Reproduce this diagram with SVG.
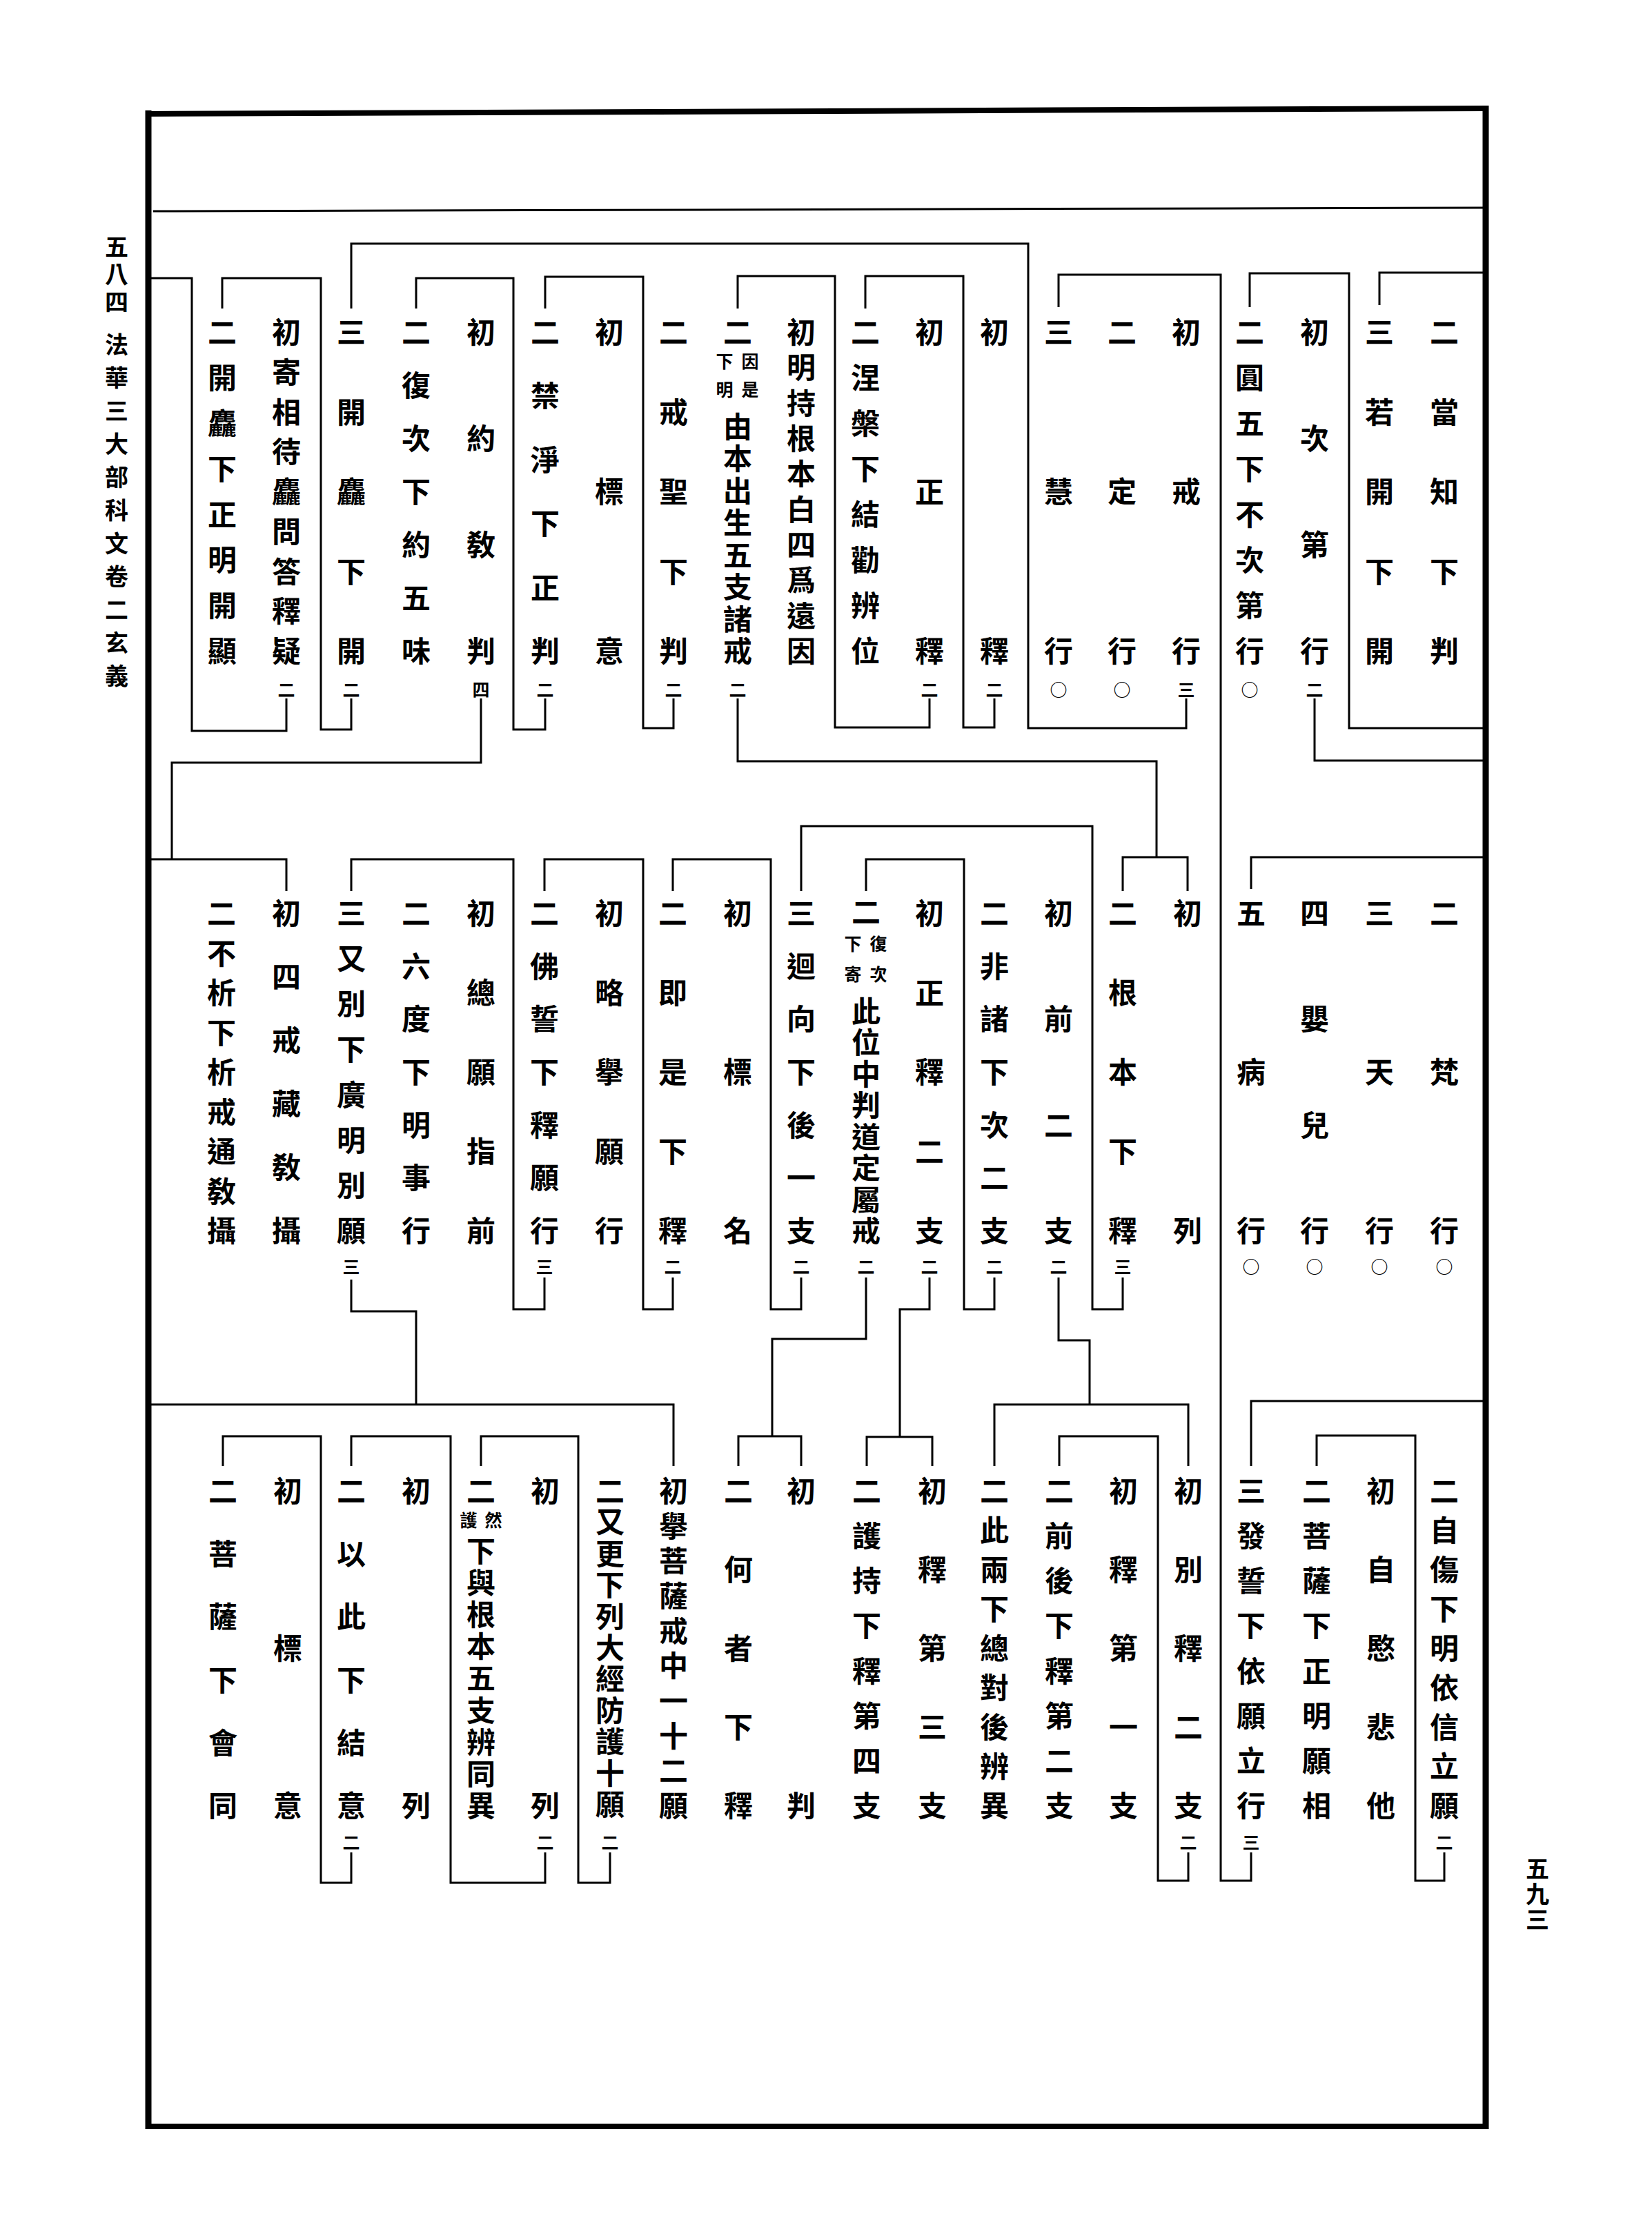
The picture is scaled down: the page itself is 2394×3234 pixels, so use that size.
<svg xmlns="http://www.w3.org/2000/svg" width="2394" height="3234" viewBox="0 0 2394 3234">
<style>
.t{font-family:"Noto Sans CJK TC","Noto Sans CJK JP",sans-serif;font-size:42px;font-weight:700;text-anchor:middle;dominant-baseline:central;fill:#000}
.s{font-size:25px}
.m{font-size:34px}
.c{fill:none;stroke:#000;stroke-width:3}
.f{fill:none;stroke:#000}
</style>
<rect width="2394" height="3234" fill="#fff"/>
<g id="frame">
<path class="f" stroke-width="9" d="M215 160 V3085"/>
<path class="f" stroke-width="9" d="M2153 153 V3085"/>
<path class="f" stroke-width="8" d="M211 165 L2157 157"/>
<path class="f" stroke-width="8" d="M211 3081 H2157"/>
<path class="f" stroke-width="3" d="M222 306 L2149 301"/>
</g>
<g id="margin">
<text class="t m" x="169 169 169" y="355 395 435">五八四</text>
<text class="t m" x="169 169 169 169 169 169 169 169 169 169 169" y="497 545 593 641 689 737 785 833 881 929 977">法華三大部科文卷二玄義</text>
<text class="t m" x="2228 2228 2228" y="2705 2742 2779">五九三</text>
</g>
<g id="connectors">
<path class="c" d="M2153 395 H1999 V442"/>
<path class="c" d="M2153 1055 H1955 V396 H1811 V445"/>
<path class="c" d="M1813 2684 V2725 H1769 V398 H1534 V445"/>
<path class="c" d="M1719 1012 V1055 H1490 V353 H509 V447"/>
<path class="c" d="M1441 1012 V1054 H1396 V400 H1254 V447"/>
<path class="c" d="M1347 1012 V1054 H1210 V400 H1069 V447"/>
<path class="c" d="M976 1012 V1055 H932 V401 H790 V447"/>
<path class="c" d="M790 1012 V1057 H744 V403 H603 V447"/>
<path class="c" d="M509 1012 V1057 H465 V403 H322 V447"/>
<path class="c" d="M415 1012 V1059 H278 V403 H219"/>
<path class="c" d="M1905 1012 V1102 H2153"/>
<path class="c" d="M2153 1242 H1813 V1288"/>
<path class="c" d="M1069 1012 V1103 H1676 V1242"/>
<path class="c" d="M1627 1291 V1242 H1721 V1291"/>
<path class="c" d="M697 1012 V1105 H249 V1245"/>
<path class="c" d="M219 1245 H415 V1291"/>
<path class="c" d="M1627 1851 V1897 H1583 V1197 H1161 V1291"/>
<path class="c" d="M1441 1851 V1897 H1397 V1245 H1255 V1291"/>
<path class="c" d="M1161 1851 V1897 H1117 V1245 H975 V1291"/>
<path class="c" d="M975 1851 V1897 H932 V1245 H789 V1291"/>
<path class="c" d="M789 1851 V1897 H744 V1245 H509 V1291"/>
<path class="c" d="M1534 1851 V1942 H1579 V2035"/>
<path class="c" d="M1441 2124 V2035 H1722 V2124"/>
<path class="c" d="M1347 1851 V1897 H1304 V2082"/>
<path class="c" d="M1256 2124 V2082 H1351 V2124"/>
<path class="c" d="M1255 1851 V1940 H1119 V2081"/>
<path class="c" d="M1070 2124 V2081 H1161 V2124"/>
<path class="c" d="M509 1854 V1900 H603 V2035"/>
<path class="c" d="M219 2035 H976 V2124"/>
<path class="c" d="M2153 2030 H1813 V2124"/>
<path class="c" d="M2093 2684 V2725 H2051 V2080 H1908 V2124"/>
<path class="c" d="M1722 2684 V2725 H1678 V2081 H1535 V2124"/>
<path class="c" d="M884 2684 V2728 H838 V2081 H697 V2124"/>
<path class="c" d="M790 2684 V2728 H653 V2081 H509 V2124"/>
<path class="c" d="M509 2684 V2728 H465 V2081 H323 V2124"/>
</g>
<g id="n1"><text class="t" x="2093 2093 2093 2093 2093" y="478 594 709 825 940">二當知下判</text></g>
<g id="n2"><text class="t" x="1999 1999 1999 1999 1999" y="478 594 709 825 940">三若開下開</text></g>
<g id="n3"><text class="t" x="1905 1905 1905 1905" y="478 632 786 940">初次第行</text><text class="t s" x="1905" y="998">二</text></g>
<g id="n4"><text class="t" x="1811 1811 1811 1811 1811 1811 1811 1811" y="478 544 610 676 742 808 874 940">二圓五下不次第行</text><text class="t s" x="1811" y="998">○</text></g>
<g id="n5"><text class="t" x="1719 1719 1719" y="478 709 940">初戒行</text><text class="t s" x="1719" y="998">三</text></g>
<g id="n6"><text class="t" x="1626 1626 1626" y="478 709 940">二定行</text><text class="t s" x="1626" y="998">○</text></g>
<g id="n7"><text class="t" x="1534 1534 1534" y="478 709 940">三慧行</text><text class="t s" x="1534" y="998">○</text></g>
<g id="n8"><text class="t" x="1441 1441" y="478 940">初釋</text><text class="t s" x="1441" y="998">二</text></g>
<g id="n9"><text class="t" x="1347 1347 1347" y="478 709 940">初正釋</text><text class="t s" x="1347" y="998">二</text></g>
<g id="n10"><text class="t" x="1254 1254 1254 1254 1254 1254 1254 1254" y="478 544 610 676 742 808 874 940">二涅槃下結勸辨位</text></g>
<g id="n11"><text class="t" x="1161 1161 1161 1161 1161 1161 1161 1161 1161 1161" y="478 529 581 632 683 735 786 837 889 940">初明持根本白四爲遠因</text></g>
<g id="n12"><text class="t" x="1069" y="478">二</text><text class="t s" x="1087 1087 1050 1050" y="522 563 522 563">因是下明</text><text class="t" x="1069 1069 1069 1069 1069 1069 1069 1069" y="615 661 708 754 801 847 894 940">由本出生五支諸戒</text><text class="t s" x="1069" y="998">二</text></g>
<g id="n13"><text class="t" x="976 976 976 976 976" y="478 594 709 825 940">二戒聖下判</text><text class="t s" x="976" y="998">二</text></g>
<g id="n14"><text class="t" x="883 883 883" y="478 709 940">初標意</text></g>
<g id="n15"><text class="t" x="790 790 790 790 790 790" y="478 570 663 755 848 940">二禁淨下正判</text><text class="t s" x="790" y="998">二</text></g>
<g id="n16"><text class="t" x="697 697 697 697" y="478 632 786 940">初約敎判</text><text class="t s" x="697" y="998">四</text></g>
<g id="n17"><text class="t" x="603 603 603 603 603 603 603" y="478 555 632 709 786 863 940">二復次下約五味</text></g>
<g id="n18"><text class="t" x="509 509 509 509 509" y="478 594 709 825 940">三開麤下開</text><text class="t s" x="509" y="998">二</text></g>
<g id="n19"><text class="t" x="415 415 415 415 415 415 415 415 415" y="478 536 594 651 709 767 825 882 940">初寄相待麤問答釋疑</text><text class="t s" x="415" y="998">二</text></g>
<g id="n20"><text class="t" x="322 322 322 322 322 322 322 322" y="478 544 610 676 742 808 874 940">二開麤下正明開顯</text></g>
<g id="d1"><text class="t" x="2093 2093 2093" y="1320 1550 1780">二梵行</text><text class="t s" x="2093" y="1834">○</text></g>
<g id="d2"><text class="t" x="1999 1999 1999" y="1320 1550 1780">三天行</text><text class="t s" x="1999" y="1834">○</text></g>
<g id="d3"><text class="t" x="1905 1905 1905 1905" y="1320 1473 1627 1780">四嬰兒行</text><text class="t s" x="1905" y="1834">○</text></g>
<g id="d4"><text class="t" x="1813 1813 1813" y="1320 1550 1780">五病行</text><text class="t s" x="1813" y="1834">○</text></g>
<g id="d5"><text class="t" x="1721 1721" y="1320 1780">初列</text></g>
<g id="d6"><text class="t" x="1627 1627 1627 1627 1627" y="1320 1435 1550 1665 1780">二根本下釋</text><text class="t s" x="1627" y="1834">三</text></g>
<g id="d7"><text class="t" x="1534 1534 1534 1534" y="1320 1473 1627 1780">初前二支</text><text class="t s" x="1534" y="1834">二</text></g>
<g id="d8"><text class="t" x="1441 1441 1441 1441 1441 1441 1441" y="1320 1397 1473 1550 1627 1703 1780">二非諸下次二支</text><text class="t s" x="1441" y="1834">二</text></g>
<g id="d9"><text class="t" x="1347 1347 1347 1347 1347" y="1320 1435 1550 1665 1780">初正釋二支</text><text class="t s" x="1347" y="1834">二</text></g>
<g id="d10"><text class="t" x="1255" y="1318">二</text><text class="t s" x="1273 1273 1236 1236" y="1366 1410 1366 1410">復次下寄</text><text class="t" x="1255 1255 1255 1255 1255 1255 1255 1255" y="1462 1507 1553 1598 1644 1689 1735 1780">此位中判道定屬戒</text><text class="t s" x="1255" y="1834">二</text></g>
<g id="d11"><text class="t" x="1161 1161 1161 1161 1161 1161 1161" y="1320 1397 1473 1550 1627 1703 1780">三迴向下後一支</text><text class="t s" x="1161" y="1834">二</text></g>
<g id="d12"><text class="t" x="1069 1069 1069" y="1320 1550 1780">初標名</text></g>
<g id="d13"><text class="t" x="975 975 975 975 975" y="1320 1435 1550 1665 1780">二即是下釋</text><text class="t s" x="975" y="1834">二</text></g>
<g id="d14"><text class="t" x="883 883 883 883 883" y="1320 1435 1550 1665 1780">初略擧願行</text></g>
<g id="d15"><text class="t" x="789 789 789 789 789 789 789" y="1320 1397 1473 1550 1627 1703 1780">二佛誓下釋願行</text><text class="t s" x="789" y="1834">三</text></g>
<g id="d16"><text class="t" x="697 697 697 697 697" y="1320 1435 1550 1665 1780">初總願指前</text></g>
<g id="d17"><text class="t" x="603 603 603 603 603 603 603" y="1320 1397 1473 1550 1627 1703 1780">二六度下明事行</text></g>
<g id="d18"><text class="t" x="509 509 509 509 509 509 509 509" y="1320 1386 1451 1517 1583 1649 1714 1780">三又別下廣明別願</text><text class="t s" x="509" y="1834">三</text></g>
<g id="d19"><text class="t" x="415 415 415 415 415 415" y="1320 1412 1504 1596 1688 1780">初四戒藏敎攝</text></g>
<g id="d20"><text class="t" x="321 321 321 321 321 321 321 321 321" y="1320 1378 1435 1493 1550 1608 1665 1723 1780">二不析下析戒通敎攝</text></g>
<g id="e1"><text class="t" x="2093 2093 2093 2093 2093 2093 2093 2093 2093" y="2157 2214 2271 2328 2385 2442 2499 2556 2613">二自傷下明依信立願</text><text class="t s" x="2093" y="2668">二</text></g>
<g id="e2"><text class="t" x="2001 2001 2001 2001 2001" y="2157 2271 2385 2499 2613">初自愍悲他</text></g>
<g id="e3"><text class="t" x="1908 1908 1908 1908 1908 1908 1908 1908" y="2157 2222 2287 2352 2418 2483 2548 2613">二菩薩下正明願相</text></g>
<g id="e4"><text class="t" x="1813 1813 1813 1813 1813 1813 1813 1813" y="2157 2222 2287 2352 2418 2483 2548 2613">三發誓下依願立行</text><text class="t s" x="1813" y="2668">三</text></g>
<g id="e5"><text class="t" x="1722 1722 1722 1722 1722" y="2157 2271 2385 2499 2613">初別釋二支</text><text class="t s" x="1722" y="2668">二</text></g>
<g id="e6"><text class="t" x="1628 1628 1628 1628 1628" y="2157 2271 2385 2499 2613">初釋第一支</text></g>
<g id="e7"><text class="t" x="1535 1535 1535 1535 1535 1535 1535 1535" y="2157 2222 2287 2352 2418 2483 2548 2613">二前後下釋第二支</text></g>
<g id="e8"><text class="t" x="1441 1441 1441 1441 1441 1441 1441 1441 1441" y="2157 2214 2271 2328 2385 2442 2499 2556 2613">二此兩下總對後辨異</text></g>
<g id="e9"><text class="t" x="1351 1351 1351 1351 1351" y="2157 2271 2385 2499 2613">初釋第三支</text></g>
<g id="e10"><text class="t" x="1256 1256 1256 1256 1256 1256 1256 1256" y="2157 2222 2287 2352 2418 2483 2548 2613">二護持下釋第四支</text></g>
<g id="e11"><text class="t" x="1161 1161" y="2157 2613">初判</text></g>
<g id="e12"><text class="t" x="1070 1070 1070 1070 1070" y="2157 2271 2385 2499 2613">二何者下釋</text></g>
<g id="e13"><text class="t" x="976 976 976 976 976 976 976 976 976 976" y="2157 2208 2258 2309 2360 2410 2461 2512 2562 2613">初擧菩薩戒中一十二願</text></g>
<g id="e14"><text class="t" x="884 884 884 884 884 884 884 884 884 884 884" y="2157 2202 2248 2293 2339 2384 2429 2475 2520 2566 2611">二又更下列大經防護十願</text><text class="t s" x="884" y="2668">二</text></g>
<g id="e15"><text class="t" x="790 790" y="2157 2613">初列</text><text class="t s" x="790" y="2668">二</text></g>
<g id="e16"><text class="t" x="697" y="2157">二</text><text class="t s" x="715 679" y="2201 2201">然護</text><text class="t" x="697 697 697 697 697 697 697 697 697" y="2244 2290 2336 2382 2428 2475 2521 2567 2613">下與根本五支辨同異</text></g>
<g id="e17"><text class="t" x="603 603" y="2157 2613">初列</text></g>
<g id="e18"><text class="t" x="509 509 509 509 509 509" y="2157 2248 2339 2431 2522 2613">二以此下結意</text><text class="t s" x="509" y="2668">二</text></g>
<g id="e19"><text class="t" x="417 417 417" y="2157 2385 2613">初標意</text></g>
<g id="e20"><text class="t" x="323 323 323 323 323 323" y="2157 2248 2339 2431 2522 2613">二菩薩下會同</text></g>
</svg>
